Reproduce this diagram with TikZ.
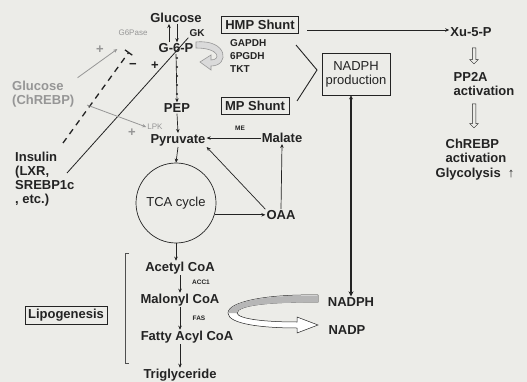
\documentclass[tikz,border=0pt]{standalone}
\usepackage{fontspec}
\setmainfont{Liberation Sans}
\usetikzlibrary{arrows.meta,shapes.arrows}

\definecolor{fond}{RGB}{236,236,232}
\definecolor{encre}{RGB}{35,35,35}
\definecolor{gris}{RGB}{150,150,150}

\tikzset{
  lbl/.style={font=\fontsize{13}{14}\selectfont\bfseries, text=encre, inner sep=1pt},
  enz/.style={font=\fontsize{10}{13}\selectfont\bfseries, text=encre, inner sep=1pt},
  petit/.style={font=\fontsize{6.5}{7}\selectfont\bfseries, text=encre, inner sep=1pt},
  glbl/.style={font=\fontsize{13}{14}\selectfont\bfseries, text=gris, inner sep=1pt},
  gpetit/.style={font=\fontsize{8}{9}\selectfont, text=gris, inner sep=1pt},
  fin/.style={font=\fontsize{13}{14}\selectfont, text=encre},
  boite/.style={draw=encre, line width=0.8pt, inner sep=4pt},
  fl/.style={encre, line width=0.7pt, -{Stealth[length=4pt,width=3.5pt]}},
  gfl/.style={gris, line width=0.8pt, -{Stealth[length=4pt,width=3.5pt]}},
  creuse/.style={single arrow, draw=encre, line width=0.5pt, shape border rotate=270,
    inner sep=1.5pt, single arrow head extend=2.5pt, single arrow head indent=0pt,
    minimum height=16pt}
}

\begin{document}
\begin{tikzpicture}[x=1pt,y=-1pt]
    % Fond
    \fill[fond] (0,0) rectangle (527,382);
    \useasboundingbox (0,0) rectangle (527,382);

    % Axe principal de la glycolyse
    \node[lbl] (glc) at (176,18) {Glucose};
    \node[lbl] (g6p) at (176,48) {G-6-P};
    \node[enz] (gk) at (197,33) {GK};
    \node[gpetit] (g6pase) at (133,33) {G6Pase};
    \node[lbl] (pep) at (177,108) {PEP};
    \node[gpetit] (lpk) at (155,127) {LPK};
    \node[lbl] (pyr) at (178,140) {Pyruvate};
    \node[fin, draw=encre, line width=0.7pt, circle, minimum size=80pt, inner sep=0pt] (tca) at (176,203) {TCA cycle};
    \node[lbl] (oaa) at (281,215) {OAA};
    \node[lbl] (mal) at (282,138) {Malate};

    \draw[fl] ([xshift=1pt]glc.south) -- ([xshift=1pt]g6p.north);
    \draw[fl] ([xshift=-7pt]g6p.north) -- ([xshift=-7pt]glc.south);
    \draw[fl] (g6p.south) -- (pep.north);
    \foreach \y in {58,67,76,85,94} \fill[encre] (177,\y) circle (1.2pt);
    \draw[fl] (pep.south) -- (pyr.north);
    \draw[fl] (pyr.south) -- (tca.north);
    \draw[fl] (tca.-17) -- (tca.-17 -| oaa.west);
    \draw[fl] (oaa.north) -- (mal.south);
    \draw[fl] (oaa.north west) -- (pyr.south east);
    \draw[fl] (mal.west) -- (mal.west -| pyr.east);

    % Colonne de droite
    \node[lbl] (xu) at (471,32) {Xu-5-P};
    \node[creuse] (c1) at (474,55) {};
    \node[lbl, align=left] (pp2a) at (484,84) {PP2A\\activation};
    \node[creuse, minimum height=24pt] (c2) at (474,115) {};
    \node[lbl, align=left] (chrebp) at (476,151) {ChREBP\\activation};
    \node[lbl] (glyco) at (475,174) {Glycolysis\hspace{7pt}↑};

    % Shunts et production de NADPH
    \node[lbl, boite] (hmp) at (260,25) {HMP Shunt};
    \node[enz, align=left, anchor=west] (enzhmp) at (229,56) {GAPDH\\6PGDH\\TKT};
    \node[lbl, boite] (mp) at (255,106) {MP Shunt};
    \node[petit] (me) at (240,128) {ME};
    \node[fin, boite, align=center, minimum width=68pt, minimum height=42pt, inner sep=2pt] (prod) at (356,74) {NADPH\\production};
    \draw[encre, line width=0.9pt] (296,45) -- (317,70) -- (297,101);
    \draw[fl] ([xshift=8pt,yshift=-5pt]hmp.east) -- ([yshift=-5pt]hmp.east -| xu.west);
    \filldraw[fill=gris!35, draw=gris, line width=0.6pt] (196,42) .. controls (228,39) and (230,66) .. (211,66)
      -- (211,70) -- (200,62) -- (211,55) -- (211,60) .. controls (221,60) and (220,48) .. (196,48) -- cycle;

    % Regulation : insuline, ChREBP
    \node[lbl, align=left, anchor=west] (ins) at (14,179) {Insulin\\(LXR,\\SREBP1c\\, etc.)};
    \node[glbl, align=left, anchor=west] (gch) at (11,94) {Glucose\\(ChREBP)};
    \coordinate (ilxr) at (67,173);
    \coordinate (dbas) at (63,143);
    \coordinate (dhaut) at (129,52);
    \coordinate (gdep) at (87,105);
    \draw[encre, line width=0.8pt] (ilxr) -- (gk.south west);
    \draw[encre, line width=1.3pt, dash pattern=on 6pt off 5pt, -{Bar[width=9pt,line width=1.3pt]}] (dbas) -- (dhaut);
    \draw[gfl] ([xshift=2pt,yshift=2pt]gch.north east) -- ([yshift=-12pt]g6pase.south west);
    \draw[gfl] (gdep) -- (lpk.west);
    \node[glbl] (p1) at (100,50) {+};
    \node[lbl] (p2) at (155,66) {+};
    \node[lbl] (m1) at (133,66) {−};
    \node[glbl] (p3) at (132,133) {+};

    % Lipogenese
    \node[lbl] (acc) at (180,268) {Acetyl CoA};
    \node[lbl] (malo) at (180,300) {Malonyl CoA};
    \node[lbl] (fac) at (187,337) {Fatty Acyl CoA};
    \node[lbl] (tg) at (180,375) {Triglyceride};
    \node[petit] (acc1) at (201,282) {ACC1};
    \node[petit] (fas) at (199,318) {FAS};
    \draw[fl] (tca.south) -- (tca.south |- acc.north);
    \draw[fl] (acc.south) -- (malo.north);
    \draw[fl] (malo.south) -- (malo.south |- fac.north);
    \draw[fl] (tg.north |- fac.south) -- (tg.north);
    \draw[encre!80, line width=0.6pt] (129,253) -- (125,253) -- (125,363) -- (129,363);
    \node[lbl, boite, inner sep=3pt] (lipo) at (66,315) {Lipogenesis};

    % NADPH / NADP
    \node[lbl] (nadph) at (351,302) {NADPH};
    \node[lbl] (nadp) at (347,330) {NADP};
    \draw[encre, line width=1.1pt, {Stealth[length=4pt,width=4pt]}-{Stealth[length=5pt,width=5pt]}] (nadph.north |- prod.south) -- (nadph.north);
    \filldraw[fill=white, draw=encre, line width=0.5pt] (318,295) .. controls (265,294) and (228,302) .. (228,313)
      .. controls (228,324) and (262,328) .. (297,328) -- (297,333) -- (318,325) -- (297,317) -- (297,322)
      .. controls (265,322) and (238,319) .. (237,313) .. controls (238,305) and (270,302) .. (318,302) -- cycle;
    \fill[gris!70] (318,295.6) .. controls (265,294.6) and (228.6,302) .. (228.6,313) -- (236.6,313)
      .. controls (238,305) and (270,302.4) .. (318,302.4) -- cycle;
\end{tikzpicture}
\end{document}
